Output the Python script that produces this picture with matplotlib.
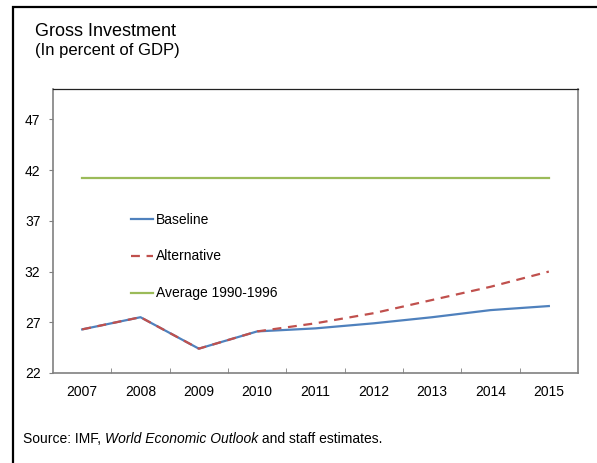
import matplotlib.pyplot as plt
from matplotlib.patches import Rectangle
from matplotlib.ticker import FixedLocator

plt.rcParams['font.family'] = ['Liberation Sans', 'DejaVu Sans']

years = ['2007', '2008', '2009', '2010', '2011', '2012', '2013', '2014', '2015']
baseline = [26.3, 27.5, 24.4, 26.1, 26.4, 26.9, 27.5, 28.2, 28.6]
alternative = [26.3, 27.5, 24.4, 26.1, 26.9, 27.9, 29.2, 30.5, 32.0]
average_90_96 = [41.2] * len(years)

W, H = 597, 463
fig = plt.figure(figsize=(W / 100, H / 100), dpi=100)

# outer black frame (runs off the right and bottom edge)
fig.patches.append(Rectangle((13 / W, -0.1), 1.2, 1 - 7 / H + 0.1,
                             transform=fig.transFigure, fill=False,
                             edgecolor='black', linewidth=1.6))

fig.text(35 / W, 1 - 31 / H, 'Gross Investment', fontsize=13, va='center')
fig.text(35 / W, 1 - 51 / H, '(In percent of GDP)', fontsize=12, va='center')

ax = fig.add_axes([53 / W, 1 - 373 / H, (578 - 53) / W, (373 - 89) / H])

x = list(range(len(years)))
ax.plot(x, baseline, color='#4f81bd', lw=1.6, label='Baseline', zorder=3)
ax.plot(x, alternative, color='#c0504d', lw=1.6, dashes=(4, 3), label='Alternative', zorder=4)
ax.plot(x, average_90_96, color='#9bbb59', lw=1.6, label='Average 1990-1996', zorder=2)

ax.set_xlim(-0.5, len(years) - 0.5)
ax.set_ylim(22, 50)
ax.set_yticks([22, 27, 32, 37, 42, 47])
ax.set_xticks(x)
ax.set_xticklabels(years)
ax.xaxis.set_minor_locator(FixedLocator([i + 0.5 for i in range(len(years) - 1)]))
ax.tick_params(axis='x', which='major', length=0, pad=9, labelsize=10)
ax.tick_params(axis='x', which='minor', direction='in', length=3.5, color='#808080')
ax.tick_params(axis='y', direction='out', length=3, color='#808080', pad=6, labelsize=10)

for side in ['left', 'right', 'bottom']:
    ax.spines[side].set_color('#808080')
    ax.spines[side].set_linewidth(1.2)
ax.spines['top'].set_color('#222222')
ax.spines['top'].set_linewidth(0.9)

ax.legend(loc='upper left', bbox_to_anchor=(0.149, 0.565), frameon=False,
          fontsize=10, handlelength=1.6, handletextpad=0.15, labelspacing=1.65,
          borderpad=0, borderaxespad=0)

src = fig.text(23 / W, 1 - 439 / H, 'Source: IMF, ', fontsize=10, va='center')
fig.canvas.draw()
r = fig.canvas.get_renderer()
bb = src.get_window_extent(r)
it = fig.text(bb.x1 / W, 1 - 439 / H, 'World Economic Outlook', fontsize=10,
              va='center', style='italic')
bb2 = it.get_window_extent(r)
fig.text(bb2.x1 / W, 1 - 439 / H, ' and staff estimates.', fontsize=10, va='center')

fig.savefig('out.png', dpi=100)
